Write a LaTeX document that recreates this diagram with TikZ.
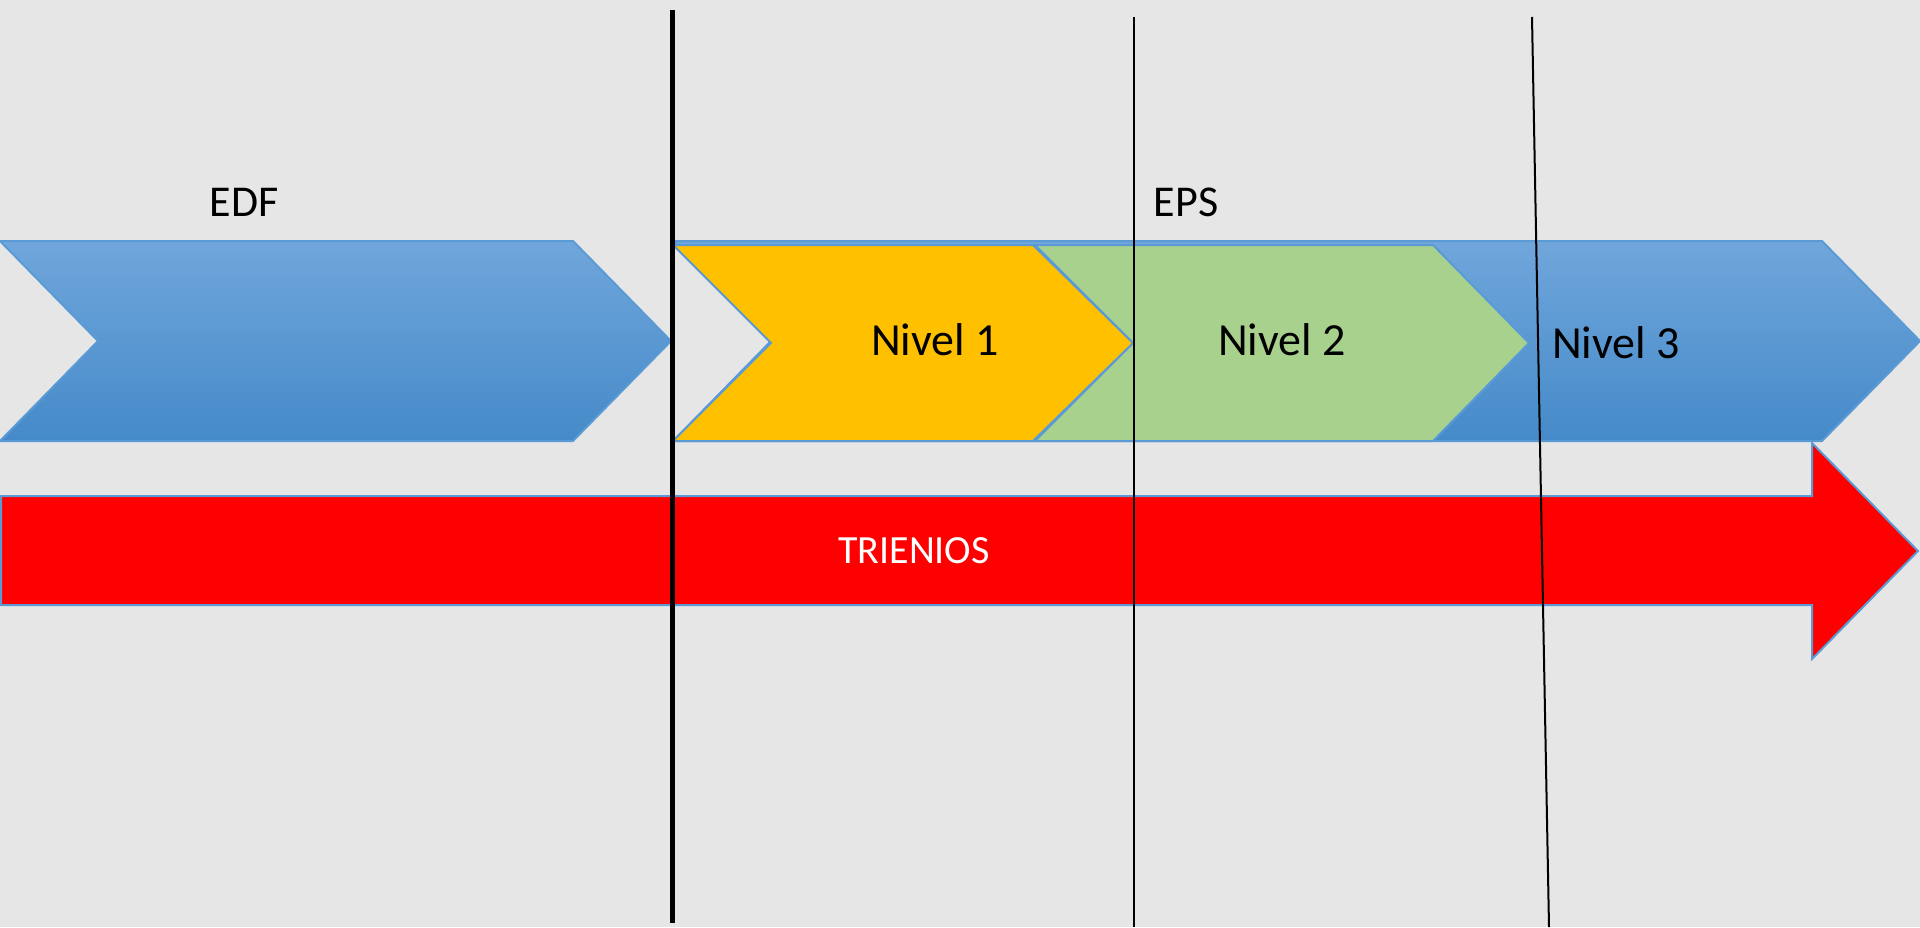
\documentclass[tikz,border=0pt]{standalone}
\usepackage{fontspec}
\setmainfont{Carlito}
\definecolor{fondo}{RGB}{230,230,230}
\definecolor{borde}{RGB}{91,155,213}
\definecolor{azularriba}{RGB}{112,166,219}
\definecolor{azulabajo}{RGB}{69,138,201}
\definecolor{amarillo}{RGB}{255,192,0}
\definecolor{verde}{RGB}{169,209,142}
\tikzset{
  flecha/.style={draw=borde,line width=2pt,line join=miter},
  texto/.style={font=\fontsize{44}{48}\selectfont},
  nivel/.style={font=\fontsize{46}{50}\selectfont},
}
\begin{document}
\begin{tikzpicture}[x=1pt,y=-1pt]
  \fill[fondo] (0,0) rectangle (1920,927); %背景
  \useasboundingbox (0,0) rectangle (1920,927);

  %EDF
  \shade[flecha,top color=azularriba,bottom color=azulabajo] (0,241) -- (573,241) -- (671,341) -- (573,441) -- (0,441) -- (98,341) -- cycle;

  %EPS
  \shade[flecha,top color=azularriba,bottom color=azulabajo] (673,241) -- (1822,241) -- (1920,341) -- (1822,441) -- (673,441) -- (771,341) -- cycle; %外側
  \fill[verde,flecha] (1035,245) -- (1433,245) -- (1529,343) -- (1433,441) -- (1035,441) -- (1133,343) -- cycle; %緑
  \fill[amarillo,flecha] (673,245) -- (1033,245) -- (1133,343) -- (1033,441) -- (673,441) -- (771,343) -- cycle; %黄

  %trienios
  \fill[red,flecha] (1,496) -- (1812,496) -- (1812,443) -- (1918,551) -- (1812,659) -- (1812,605) -- (1,605) -- cycle; %赤い矢印

  %縦線
  \draw[line width=5pt] (672,10) -- (672,923);
  \draw[line width=2pt] (1134,17) -- (1134,927);
  \draw[line width=2pt] (1532,17) -- (1549,927);

  %ラベル
  \node[texto] (edf) at (244,202) {EDF};
  \node[texto] (eps) at (1186,202) {EPS};
  \node[nivel] (nivel1) at (935,340) {Nivel 1};
  \node[nivel] (nivel2) at (1282,340) {Nivel 2};
  \node[nivel] (nivel3) at (1616,343) {Nivel 3};
  \node[texto,text=white,font=\fontsize{40}{44}\selectfont] (trienios) at (914,551) {TRIENIOS};
\end{tikzpicture}
\end{document}
